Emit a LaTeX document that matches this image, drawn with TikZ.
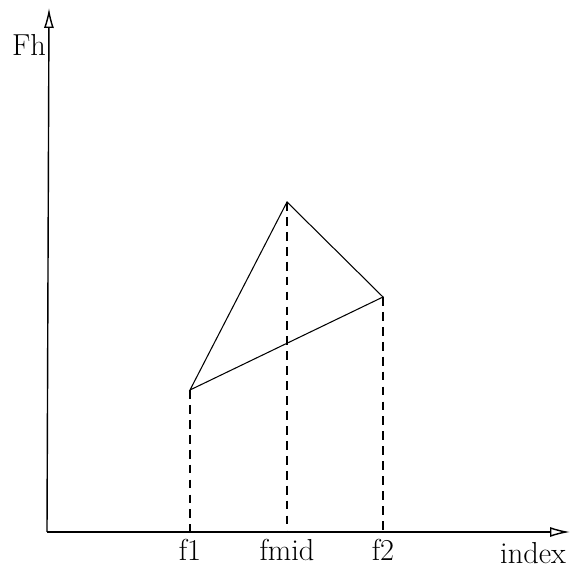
\documentclass[tikz,border=0pt]{standalone}
\usetikzlibrary{calc,arrows.meta}

\begin{document}
\begin{tikzpicture}[x=0.02cm, y=0.02cm, every node/.style={font=\LARGE}]

  \useasboundingbox (-47,-35) rectangle (527,532);

  \coordinate (o) at (0,0);
  \coordinate (xend) at (523,0);
  \coordinate (yend) at (2,524);

  \coordinate (lo) at (143,142);
  \coordinate (top) at (240,330);
  \coordinate (hi) at (336,235);

  \coordinate (f1) at (lo |- o);
  \coordinate (fmid) at (top |- o);
  \coordinate (f2) at (hi |- o);

  \draw [thick, -{Latex[open, length=4mm, width=2mm]}] (o) -- (xend);
  \draw [thick, -{Latex[open, length=4mm, width=2mm]}] (o) -- (yend);

  \draw [semithick] (lo) -- (top) -- (hi) -- cycle;

  \draw [semithick, dash pattern=on 5pt off 3.5pt] (lo) -- (f1);
  \draw [semithick, dash pattern=on 5pt off 3.5pt] (top) -- (fmid);
  \draw [semithick, dash pattern=on 5pt off 3.5pt] (hi) -- (f2);

  \node at ($(f1)+(0,-18)$) (lf1) {f1};
  \node at ($(fmid)+(0,-18)$) (lfmid) {fmid};
  \node at ($(f2)+(0,-18)$) (lf2) {f2};
  \node at (486,-21) (lindex) {index};
  \node at (-18,487) (lfh) {Fh};

\end{tikzpicture}
\end{document}
